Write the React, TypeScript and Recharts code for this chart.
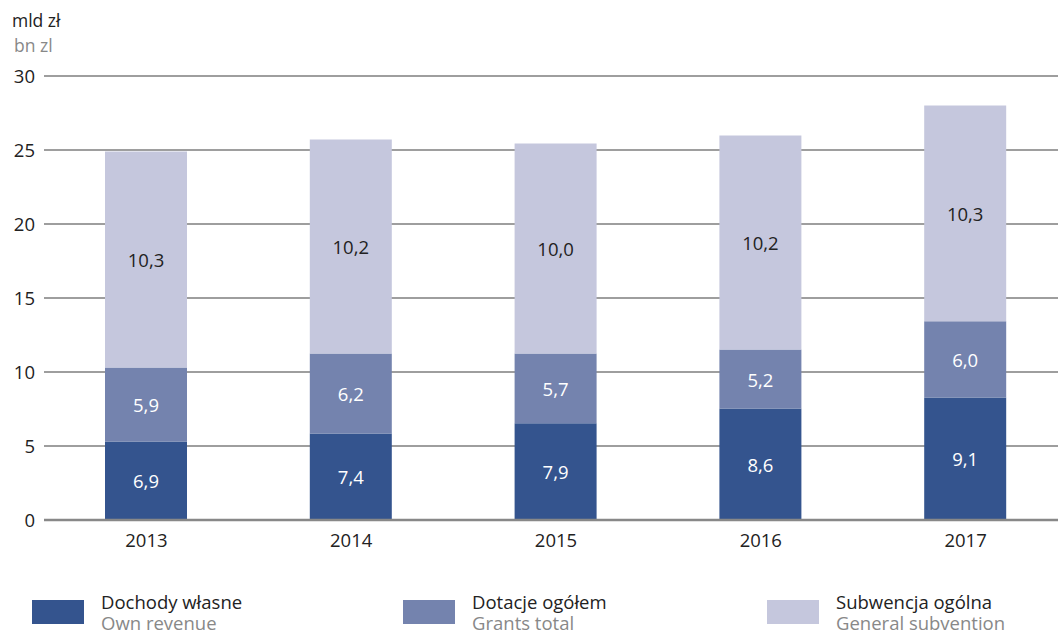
import React from "react";
import { BarChart, Bar, XAxis, YAxis, CartesianGrid, LabelList } from "recharts";

const years = ["2013", "2014", "2015", "2016", "2017"];
// drawn segment heights
const ownRevenue = [5.3, 5.84, 6.54, 7.53, 8.28];
const grantsTotal = [5.0, 5.41, 4.71, 3.99, 5.15];
const generalSubvention = [14.6, 14.46, 14.19, 14.46, 14.57];
// printed labels
const ownLabels = ["6,9", "7,4", "7,9", "8,6", "9,1"];
const grantLabels = ["5,9", "6,2", "5,7", "5,2", "6,0"];
const subvLabels = ["10,3", "10,2", "10,0", "10,2", "10,3"];
const yTicks = [0, 5, 10, 15, 20, 25, 30];

const COLORS = { own: "#34548E", grants: "#7483AE", subv: "#C5C7DD" };
const FONT = "'Open Sans', 'Noto Sans', sans-serif";

const data = years.map((y, i) => ({
  year: y,
  own: ownRevenue[i],
  grants: grantsTotal[i],
  subv: generalSubvention[i],
}));

const makeLabel = (labels: string[], color: string) => (props: any) => {
  const { x, y, width, height, index } = props;
  return (
    <text
      x={Number(x) + Number(width) / 2}
      y={Number(y) + Number(height) / 2}
      textAnchor="middle"
      dominantBaseline="central"
      fill={color}
      fontSize={18.5}
      fontFamily={FONT}
    >
      {labels[index]}
    </text>
  );
};

const legendItems = [
  { color: COLORS.own, pl: "Dochody własne", en: "Own revenue", left: 32 },
  { color: COLORS.grants, pl: "Dotacje ogółem", en: "Grants total", left: 403 },
  { color: COLORS.subv, pl: "Subwencja ogólna", en: "General subvention", left: 767 },
];

export default function App() {
  return (
    <div
      style={{
        position: "absolute",
        left: 0,
        top: 0,
        width: 1058,
        height: 632,
        overflow: "hidden",
        background: "#fff",
        fontFamily: FONT,
      }}
    >
      <div style={{ position: "absolute", left: 12, top: 10, fontSize: 17.5, color: "#222", lineHeight: "20px" }}>
        mld zł
      </div>
      <div style={{ position: "absolute", left: 14, top: 35, fontSize: 17.5, color: "#888", lineHeight: "20px" }}>
        bn zl
      </div>
      <div style={{ position: "absolute", left: 0, top: 0 }}>
        <BarChart
          width={1068}
          height={560}
          data={data}
          margin={{ top: 76, right: 0, left: 0, bottom: 0 }}
          barSize={82}
        >
          <CartesianGrid vertical={false} stroke="#7e7e7e" strokeWidth={1.5} />
          <XAxis
            dataKey="year"
            height={40}
            axisLine={{ stroke: "#888", strokeWidth: 2.5 }}
            tickLine={false}
            tick={{ fill: "#222", fontSize: 18.5, fontFamily: FONT }}
            tickMargin={8}
          />
          <YAxis
            width={44}
            domain={[0, 30]}
            ticks={yTicks}
            axisLine={false}
            tickLine={false}
            tick={{ fill: "#222", fontSize: 18.5, fontFamily: FONT }}
            tickMargin={3}
          />
          <Bar dataKey="own" stackId="a" fill={COLORS.own} isAnimationActive={false}>
            <LabelList dataKey="own" content={makeLabel(ownLabels, "#fff")} />
          </Bar>
          <Bar dataKey="grants" stackId="a" fill={COLORS.grants} isAnimationActive={false}>
            <LabelList dataKey="grants" content={makeLabel(grantLabels, "#fff")} />
          </Bar>
          <Bar dataKey="subv" stackId="a" fill={COLORS.subv} isAnimationActive={false}>
            <LabelList dataKey="subv" content={makeLabel(subvLabels, "#222")} />
          </Bar>
        </BarChart>
      </div>
      {legendItems.map((it) => (
        <div key={it.pl} style={{ position: "absolute", left: it.left, top: 590 }}>
          <div
            style={{
              position: "absolute",
              left: 0,
              top: 10,
              width: 52,
              height: 24,
              background: it.color,
            }}
          />
          <div
            style={{
              position: "absolute",
              left: 69,
              top: 2,
              whiteSpace: "nowrap",
              fontSize: 18.5,
              lineHeight: "20px",
              color: "#222",
            }}
          >
            {it.pl}
          </div>
          <div
            style={{
              position: "absolute",
              left: 69,
              top: 23,
              whiteSpace: "nowrap",
              fontSize: 18.5,
              lineHeight: "19px",
              color: "#888",
            }}
          >
            {it.en}
          </div>
        </div>
      ))}
    </div>
  );
}
